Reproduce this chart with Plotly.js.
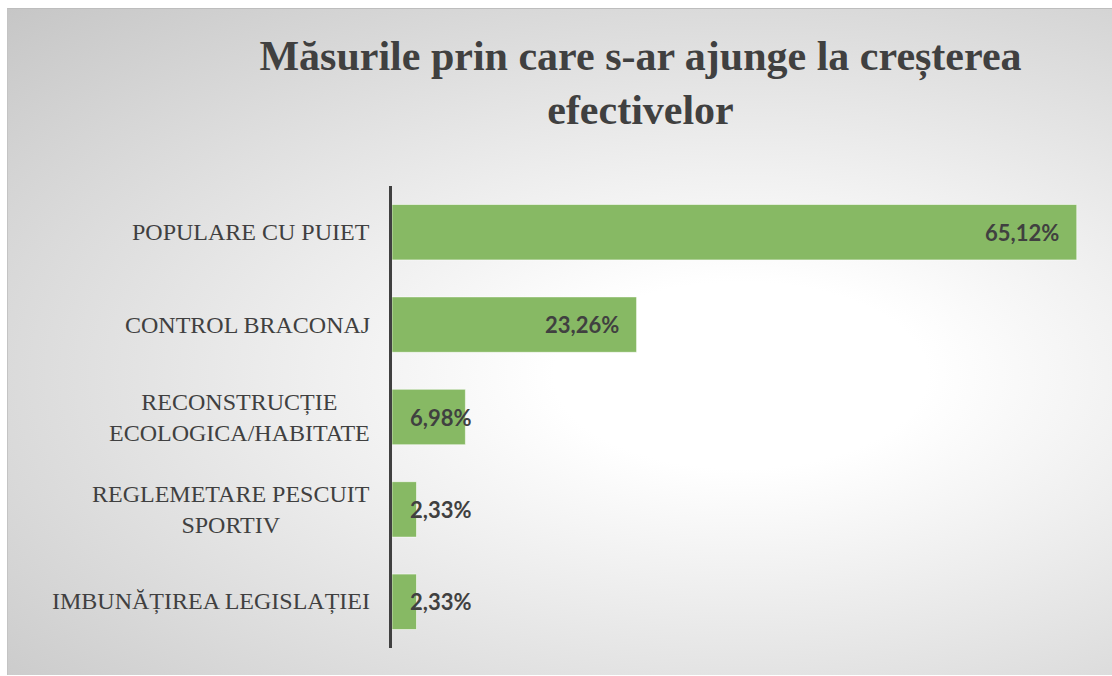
<!DOCTYPE html>
<html>
<head>
<meta charset="utf-8">
<script src="https://cdn.plot.ly/plotly-3.0.1.min.js"></script>
<style>
  html, body { margin: 0; padding: 0; background: #ffffff; }
  #wrap { position: relative; width: 1112px; height: 676px; overflow: hidden; }
  #bg {
    position: absolute; left: 7px; top: 8px; width: 1110px; height: 666px;
    border-top: 1px solid #bdbdbd; border-left: 1px solid #c4c4c4;
    background: radial-gradient(ellipse farthest-corner at 66% 55%, #ffffff 0%, #ffffff 18%, #c6c6c6 100%);
  }
  #chart { position: absolute; left: 0; top: 0; width: 1112px; height: 676px; }
</style>
</head>
<body>
<div id="wrap">
  <div id="bg"></div>
  <div id="chart"></div>
</div>
<script>
// ---- data ----
const categories = [
  'POPULARE CU PUIET',
  'CONTROL BRACONAJ',
  'RECONSTRUCȚIE<br>ECOLOGICA/HABITATE',
  'REGLEMETARE PESCUIT<br>SPORTIV',
  'IMBUNĂȚIREA LEGISLAȚIEI'
];
const values = [65.12, 23.26, 6.98, 2.33, 2.33];
const chartTitle = 'Măsurile prin care s-ar ajunge la creșterea<br>efectivelor';

// ---- layout constants ----
const W = 1112, H = 676;
const margin = { l: 392, r: 26, t: 186, b: 28, pad: 0 };
const xRange = [0, 66];
const pxPerUnit = (W - margin.l - margin.r) / (xRange[1] - xRange[0]);
const textColor = '#404040';
const labelInset = 16, labelWidthEst = 62;

function fmt(v) { return v.toFixed(2).replace('.', ',') + '%'; }

const trace = {
  type: 'bar',
  orientation: 'h',
  x: values,
  y: categories,
  width: 0.6,
  marker: { color: '#87b964', line: { color: 'rgba(255,255,255,0.55)', width: 1 } },
  hoverinfo: 'none',
  textposition: 'none'
};

const annotations = [];
categories.forEach((c, i) => {
  annotations.push({
    xref: 'paper', yref: 'y', x: 0, y: c, xanchor: 'right', yanchor: 'middle',
    xshift: -20, text: c, showarrow: false, align: 'center',
    font: { family: 'Liberation Serif, Times New Roman, serif', size: 24, color: textColor }
  });
  const fits = values[i] * pxPerUnit >= labelWidthEst + 2 * labelInset;
  annotations.push({
    xref: 'x', yref: 'y', x: fits ? values[i] : 0, y: c,
    xanchor: fits ? 'right' : 'left', yanchor: 'middle',
    xshift: fits ? -labelInset : labelInset,
    text: '<b>' + fmt(values[i]) + '</b>', showarrow: false,
    font: { family: 'Lato, Open Sans, sans-serif', size: 22, color: textColor }
  });
});

const layout = {
  width: W, height: H,
  margin: margin,
  paper_bgcolor: 'rgba(0,0,0,0)',
  plot_bgcolor: 'rgba(0,0,0,0)',
  showlegend: false,
  title: {
    text: '<b>' + chartTitle + '</b>',
    x: 0.576, xanchor: 'center', xref: 'container',
    y: 0.897, yanchor: 'top', yref: 'container',
    font: { family: 'Liberation Serif, Times New Roman, serif', size: 42, color: textColor }
  },
  xaxis: {
    range: xRange, showgrid: false, zeroline: false, showline: false,
    showticklabels: false, ticks: '', fixedrange: true
  },
  yaxis: {
    autorange: 'reversed', showgrid: false, zeroline: false,
    showline: true, linecolor: '#404040', linewidth: 3,
    showticklabels: false, ticks: '', fixedrange: true
  },
  annotations: annotations
};

Plotly.newPlot('chart', [trace], layout, { displayModeBar: false, staticPlot: true });
</script>
</body>
</html>
